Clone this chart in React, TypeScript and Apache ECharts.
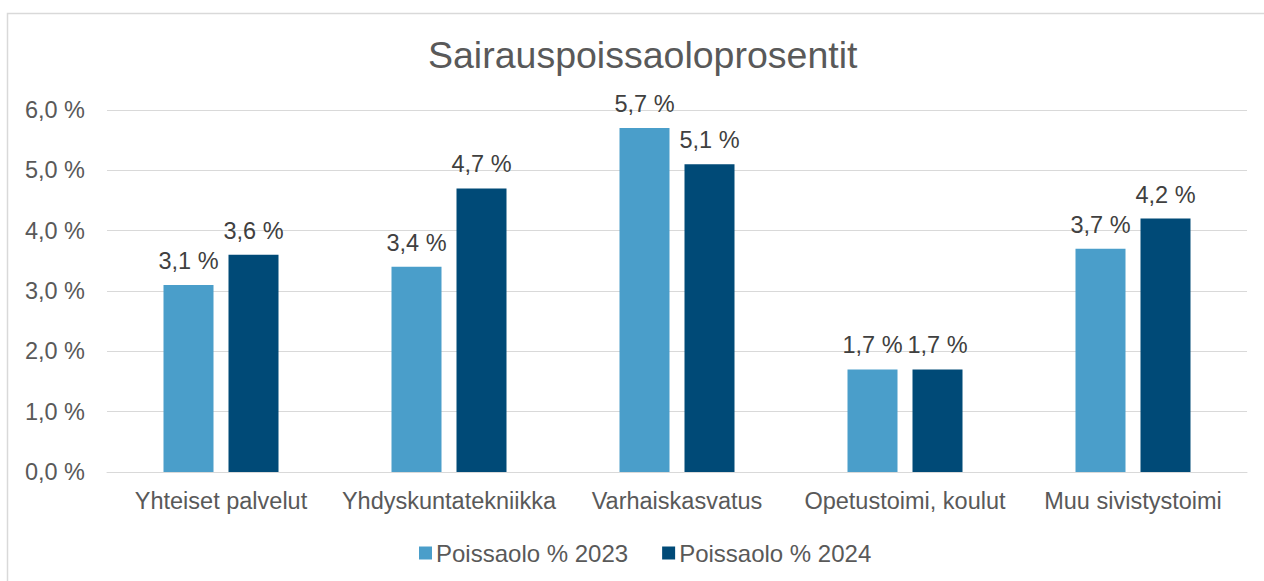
import React, { useEffect, useRef } from "react";
import * as echarts from "echarts";

const categories = [
  "Yhteiset palvelut",
  "Yhdyskuntatekniikka",
  "Varhaiskasvatus",
  "Opetustoimi, koulut",
  "Muu sivistystoimi",
];
const series2023 = [3.1, 3.4, 5.7, 1.7, 3.7];
const series2024 = [3.6, 4.7, 5.1, 1.7, 4.2];
const seriesNames = ["Poissaolo % 2023", "Poissaolo % 2024"];
const title = "Sairauspoissaoloprosentit";

const fmt = (v: number) => v.toFixed(1).replace(".", ",") + " %";
const FONT = "'Liberation Sans', Arial, sans-serif";
const FS = 23.5;

export default function App() {
  const ref = useRef<HTMLDivElement>(null);
  useEffect(() => {
    if (!ref.current) return;
    const chart = echarts.init(ref.current, undefined, { renderer: "svg" });
    const label = {
      show: true,
      position: "top" as const,
      distance: 12,
      color: "#404040",
      fontSize: FS,
      fontFamily: FONT,
      formatter: (p: any) => fmt(p.value),
    };
    chart.setOption({
      animation: false,
      backgroundColor: "#ffffff",
      title: {
        text: title,
        left: 423,
        top: 31,
        textStyle: { color: "#595959", fontSize: 37.5, fontWeight: "normal", fontFamily: FONT },
      },
      legend: {
        bottom: 11,
        left: 414,
        itemWidth: 13,
        itemHeight: 13,
        itemGap: 34,
        icon: "rect",
        textStyle: { color: "#595959", fontSize: 24, fontFamily: FONT, padding: [0, 0, 0, -1] },
        data: seriesNames,
      },
      grid: { left: 107, right: 17, top: 110, bottom: 109 },
      xAxis: {
        type: "category",
        data: categories,
        axisLine: { lineStyle: { color: "#d9d9d9", width: 1 } },
        axisTick: { show: false },
        axisLabel: { color: "#595959", fontSize: FS, fontFamily: FONT, margin: 17, interval: 0 },
      },
      yAxis: {
        type: "value",
        min: 0,
        max: 6,
        interval: 1,
        axisLine: { show: false },
        axisTick: { show: false },
        splitLine: { lineStyle: { color: "#d9d9d9", width: 1 } },
        axisLabel: {
          color: "#595959",
          fontSize: FS,
          fontFamily: FONT,
          margin: 22,
          formatter: (v: number) => fmt(v),
        },
      },
      graphic: [
        {
          type: "rect",
          shape: { x: 7.5, y: 13.5, width: 1300, height: 700 },
          style: { fill: "none", stroke: "#d9d9d9", lineWidth: 1.5 },
          silent: true,
          z: -1,
        },
      ],
      series: [
        {
          name: seriesNames[0],
          type: "bar",
          data: series2023,
          barWidth: 50,
          barGap: "30%",
          itemStyle: { color: "#4a9eca" },
          label,
        },
        {
          name: seriesNames[1],
          type: "bar",
          data: series2024,
          barWidth: 50,
          barGap: "30%",
          itemStyle: { color: "#004a77" },
          label,
        },
      ],
    });
    return () => chart.dispose();
  }, []);
  return (
    <div
      ref={ref}
      style={{ position: "fixed", left: 0, top: 0, width: 1264, height: 581 }}
    />
  );
}
